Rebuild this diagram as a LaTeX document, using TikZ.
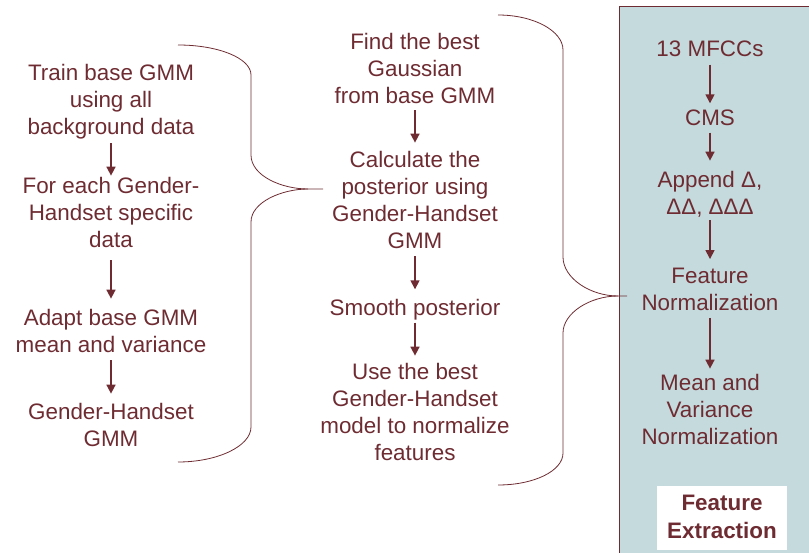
\documentclass[tikz,border=0pt]{standalone}
\usepackage{fontspec}
\setmainfont{Liberation Sans}
\usetikzlibrary{arrows.meta}
\definecolor{maroon}{RGB}{110,44,50}
\definecolor{panelblue}{RGB}{196,218,221}
\begin{document}
\begin{tikzpicture}[x=1pt,y=-1pt,
  stepnode/.style={text=maroon, font=\fontsize{22.4}{27}\selectfont, align=center,
    inner sep=0pt, execute at begin node=\strut, execute at end node=\strut},
  flow/.style={draw=maroon, line width=1.6pt, -{Triangle[width=9pt,length=9pt]}},
  bracepath/.style={draw=maroon, line width=0.8pt}]
\useasboundingbox (0,0) rectangle (809,553);
\clip (0,0) rectangle (809,553);

% feature extraction panel
\fill[panelblue] (619.5,7) rectangle (820,560);
\draw[maroon, line width=1pt] (820,7) -- (619.5,7) -- (619.5,560);
\fill[white] (657,486) rectangle (787,550);

% left column: GMM training
\node[stepnode] (L1) at (111,103) {Train base GMM\\using all\\background data};
\node[stepnode] (L2) at (111,216) {For each Gender-\\Handset specific\\data};
\node[stepnode] (L3) at (111,334.5) {Adapt base GMM\\mean and variance};
\node[stepnode] (L4) at (111,428.5) {Gender-Handset\\GMM};

% middle column: normalization with the models
\node[stepnode] (M1) at (415,72) {Find the best\\Gaussian\\from base GMM};
\node[stepnode] (M2) at (415,203.5) {Calculate the\\posterior using\\Gender-Handset\\GMM};
\node[stepnode] (M3) at (415,310) {Smooth posterior};
\node[stepnode] (M4) at (415,415.5) {Use the best\\Gender-Handset\\model to normalize\\features};

% right column: feature pipeline
\node[stepnode] (R1) at (710,51) {13 MFCCs};
\node[stepnode] (R2) at (710,120) {CMS};
\node[stepnode] (R3) at (710,196.5) {Append Δ,\\ΔΔ, ΔΔΔ};
\node[stepnode] (R4) at (710,293.5) {Feature\\Normalization};
\node[stepnode] (R5) at (710,413) {Mean and\\Variance\\Normalization};
\node[stepnode, font=\fontsize{22.4}{28}\selectfont\bfseries] (FE) at (722,521) {Feature\\Extraction};

% flow arrows
\draw[flow] ([yshift=-1pt]L1.south) -- ([yshift=1pt]L2.north);
\draw[flow] ([yshift=-5pt]L2.south) -- ([yshift=10pt]L3.north);
\draw[flow] ([yshift=0pt]L3.south) -- ([yshift=9pt]L4.north);

\draw[flow] ([yshift=1pt]M1.south) -- ([yshift=8pt]M2.north);
\draw[flow] ([yshift=0pt]M2.south) -- ([yshift=7pt]M3.north);
\draw[flow] ([yshift=1pt]M3.south) -- ([yshift=7pt]M4.north);

\draw[flow] ([yshift=0pt]R1.south) -- ([yshift=3pt]R2.north);
\draw[flow] ([yshift=1pt]R2.south) -- ([yshift=10pt]R3.north);
\draw[flow] ([yshift=2pt]R3.south) -- ([yshift=9pt]R4.north);
\draw[flow] ([yshift=1pt]R4.south) -- ([yshift=5pt]R5.north);

% left brace
\draw[bracepath] (178,45) .. controls (218,45) and (251,58) .. (251,75)
  -- (251,155) .. controls (251,176) and (282,189) .. (308,189) -- (323,189);
\draw[bracepath] (308,189) .. controls (282,189) and (251,202) .. (251,222)
  -- (251,427) .. controls (251,446) and (218,462) .. (178,462);

% right brace
\draw[bracepath] (498,15) .. controls (534,15) and (563,31) .. (563,50)
  -- (563,257) .. controls (563,278) and (590,296) .. (618,296) -- (627,296);
\draw[bracepath] (618,296) .. controls (590,296) and (563,313) .. (563,333)
  -- (563,453) .. controls (563,471) and (534,485) .. (498,485);
\end{tikzpicture}
\end{document}
